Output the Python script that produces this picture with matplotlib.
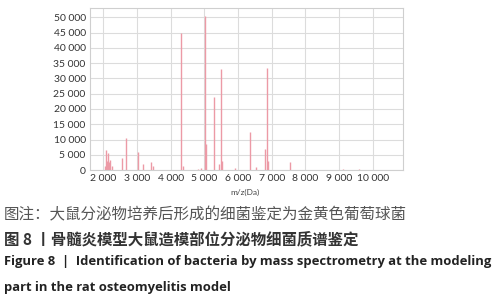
import matplotlib
matplotlib.use('Agg')
import matplotlib.pyplot as plt
import matplotlib.ticker as mticker

# peak positions (m/z) and intensities
mz = [2040, 2070, 2100, 2130, 2160, 2200, 2250, 2560, 2660, 3030, 3180, 3430, 3480,
      4310, 4380, 4800, 4900, 5030, 5045, 5290, 5430, 5490, 5520, 5900,
      6340, 6540, 6800, 6860, 6900, 7530, 9100, 9600]
intensity = [1500, 6500, 3000, 5500, 2500, 3300, 1500, 3800, 10400, 6000, 2000, 2700, 1200,
             45000, 1500, 500, 600, 50500, 8500, 24000, 2000, 33000, 3000, 800,
             12500, 1100, 7000, 33300, 3000, 2700, 500, 500]

xticks = [2000, 3000, 4000, 5000, 6000, 7000, 8000, 9000, 10000]
yticks = [0, 5000, 10000, 15000, 20000, 25000, 30000, 35000, 40000, 45000, 50000]

caption_note = '图注：大鼠分泌物培养后形成的细菌鉴定为金黄色葡萄球菌'
caption_cn = '图 8 丨骨髓炎模型大鼠造模部位分泌物细菌质谱鉴定'
caption_en1 = 'Figure 8  |  Identification of bacteria by mass spectrometry at the modeling'
caption_en2 = 'part in the rat osteomyelitis model'

def space_thousands(v, pos):
    return '{:,}'.format(int(v)).replace(',', ' ')

fig = plt.figure(figsize=(4.99, 3.0), dpi=100)
ax = fig.add_axes([0.180, 0.433, 0.628, 0.540])

ax.vlines(mz, 0, intensity, color='#ec9aa6', linewidth=1.0)
ax.set_xlim(1600, 10900)
ax.set_ylim(0, 53000)
ax.set_xticks(xticks)
ax.set_yticks(yticks)
ax.xaxis.set_major_formatter(mticker.FuncFormatter(space_thousands))
ax.yaxis.set_major_formatter(mticker.FuncFormatter(space_thousands))
ax.grid(True, color='#dcdcdc', linewidth=0.8)
ax.set_axisbelow(True)
for s in ax.spines.values():
    s.set_color('#cfcfcf')
    s.set_linewidth(0.8)
ax.tick_params(length=0, labelsize=7.5, labelcolor='#333333', pad=3)
for lab in ax.get_xticklabels() + ax.get_yticklabels():
    lab.set_family('Lato')

fig.text(0.49, 0.357, 'm/z(Da)', ha='center', va='center', fontsize=6, color='#444444', family='Lato')

cjk = ['Noto Sans CJK SC', 'DejaVu Sans']
fig.text(0.008, 0.283, caption_note, ha='left', va='center', fontsize=11.2, color='#555555', family=cjk)
fig.text(0.008, 0.203, caption_cn, ha='left', va='center', fontsize=11.1, color='#333333',
         family=cjk, fontweight='bold')
fig.text(0.008, 0.127, caption_en1, ha='left', va='center', fontsize=9.35, color='#222222',
         family='Open Sans', fontweight='bold')
fig.text(0.008, 0.043, caption_en2, ha='left', va='center', fontsize=9.35, color='#222222',
         family='Open Sans', fontweight='bold')

fig.savefig('out.png', dpi=100)
